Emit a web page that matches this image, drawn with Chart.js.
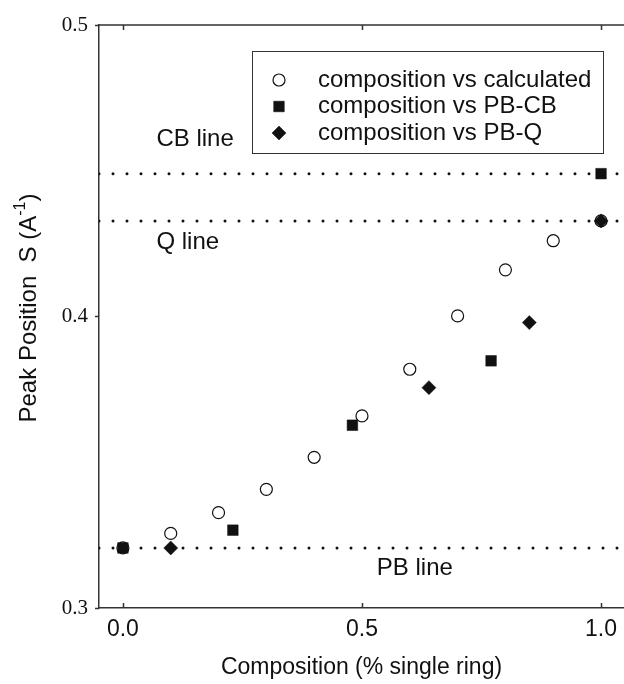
<!DOCTYPE html>
<html>
<head>
<meta charset="utf-8">
<script src="https://cdn.jsdelivr.net/npm/chart.js@4.4.1/dist/chart.umd.min.js"></script>
<style>
  html, body { margin: 0; padding: 0; background: #fff; overflow: hidden; }
  #wrap { width: 624px; height: 684px; }
</style>
</head>
<body>
<div id="wrap"><canvas id="chart"></canvas></div>
<script>
// composition (fraction single ring) vs peak position
const calcX = [0, 0.1, 0.2, 0.3, 0.4, 0.5, 0.6, 0.7, 0.8, 0.9, 1.0];
const calcY = [0.3206, 0.3256, 0.3327, 0.3407, 0.3517, 0.3659, 0.3819, 0.4002, 0.4160, 0.4260, 0.4328];
const pbcbX = [0, 0.23, 0.48, 0.77, 1.0];
const pbcbY = [0.3206, 0.3267, 0.3627, 0.3848, 0.449];
const pbqX = [0.1, 0.64, 0.85, 1.0];
const pbqY = [0.3206, 0.3756, 0.3979, 0.4328];

// reference lines
const refNames = ['CB line', 'Q line', 'PB line'];
const refValues = [0.449, 0.4328, 0.3206];

const xTicks = [0, 0.5, 1.0];
const yTicks = [0.3, 0.4, 0.5];

const xRange = [-0.05, 1.048];
const yRange = [0.3, 0.5];

// where the line names sit (data units)
const refLabelAt = [[0.07, 0.4609], [0.07, 0.4256], [0.531, 0.3137]];

const ink = '#111';
const sans = "'Liberation Sans', Arial, sans-serif";
const serif = "'Liberation Serif', 'Times New Roman', serif";

const pts = (xs, ys) => xs.map((x, i) => ({ x: x, y: ys[i] }));

const markerSets = [
    { label: 'composition vs calculated', data: pts(calcX, calcY), pointStyle: 'circle', pointRadius: 6,
      pointBackgroundColor: '#fff', pointBorderColor: ink, pointBorderWidth: 1.2, order: 3 },
    { label: 'composition vs PB-CB', data: pts(pbcbX, pbcbY), pointStyle: 'rect', pointRadius: 7.5,
      pointBackgroundColor: ink, pointBorderColor: ink, pointBorderWidth: 0.5, order: 1 },
    { label: 'composition vs PB-Q', data: pts(pbqX, pbqY), pointStyle: 'rectRot', pointRadius: 7,
      pointBackgroundColor: ink, pointBorderColor: ink, pointBorderWidth: 0.5, order: 2 }
];

const refSets = refValues.map((v, i) => ({
    label: refNames[i],
    data: [{ x: xRange[0], y: v }, { x: xRange[1], y: v }],
    showLine: true,
    pointRadius: 0,
    borderColor: ink,
    borderWidth: 3,
    borderDash: [0, 14],
    borderCapStyle: 'round',
    order: 4
}));

// extra drawing: frame top, inward ticks, line names, boxed legend, y title
const decor = {
    id: 'decor',
    afterDraw(chart) {
        const ctx = chart.ctx;
        const a = chart.chartArea;
        const xs = chart.scales.x, ys = chart.scales.y;
        ctx.save();
        ctx.strokeStyle = '#333';
        ctx.lineWidth = 1.5;
        ctx.beginPath();
        ctx.moveTo(a.left, a.top);
        ctx.lineTo(a.right, a.top);
        xTicks.forEach(v => {
            const px = Math.round(xs.getPixelForValue(v)) + 0.5;
            ctx.moveTo(px, a.top); ctx.lineTo(px, a.top + 5);
            ctx.moveTo(px, a.bottom); ctx.lineTo(px, a.bottom - 5);
        });
        yTicks.forEach(v => {
            const py = Math.round(ys.getPixelForValue(v)) + 0.5;
            ctx.moveTo(a.left - 4, py); ctx.lineTo(a.left, py);
        });
        ctx.stroke();

        // line names
        ctx.fillStyle = ink;
        ctx.font = '24px ' + sans;
        ctx.textAlign = 'left';
        ctx.textBaseline = 'middle';
        refNames.forEach((name, i) => {
            ctx.fillText(name, xs.getPixelForValue(refLabelAt[i][0]), ys.getPixelForValue(refLabelAt[i][1]));
        });

        // legend box
        ctx.lineWidth = 1;
        ctx.strokeStyle = '#333';
        ctx.strokeRect(252.5, 51.5, 351, 102);
        markerSets.forEach((ds, i) => {
            const y = 80 + i * 26.5;
            ctx.fillStyle = ds.pointBackgroundColor;
            ctx.strokeStyle = ds.pointBorderColor;
            ctx.lineWidth = ds.pointBorderWidth;
            Chart.helpers.drawPoint(ctx, { pointStyle: ds.pointStyle, radius: ds.pointRadius, borderWidth: ds.pointBorderWidth, rotation: 0 }, 279, y);
            ctx.fillStyle = ink;
            ctx.fillText(ds.label, 318, y);
        });

        // y axis title with superscript
        ctx.translate(29, 308);
        ctx.rotate(-Math.PI / 2);
        const main = 'Peak Position  S (A', sup = '-1', tail = ')';
        ctx.font = '24px ' + sans;
        const w1 = ctx.measureText(main).width, w3 = ctx.measureText(tail).width;
        ctx.font = '16px ' + sans;
        const w2 = ctx.measureText(sup).width;
        const x0 = -(w1 + w2 + w3) / 2;
        ctx.font = '24px ' + sans;
        ctx.fillText(main, x0, 0);
        ctx.font = '16px ' + sans;
        ctx.fillText(sup, x0 + w1, -8);
        ctx.font = '24px ' + sans;
        ctx.fillText(tail, x0 + w1 + w2, 0);
        ctx.restore();
    }
};

new Chart(document.getElementById('chart'), {
    type: 'scatter',
    data: { datasets: markerSets.concat(refSets) },
    options: {
        responsive: true,
        maintainAspectRatio: false,
        animation: false,
        events: [],
        layout: { autoPadding: false, padding: { top: 25, right: 0, bottom: 0, left: 0 } },
        plugins: {
            legend: { display: false },
            tooltip: { enabled: false }
        },
        scales: {
            x: {
                type: 'linear',
                min: xRange[0],
                max: xRange[1],
                afterBuildTicks: s => { s.ticks = xTicks.map(v => ({ value: v })); },
                afterFit: s => { s.height = 76; s.paddingRight = 0; s.paddingLeft = 0; },
                grid: { display: false, drawTicks: false },
                border: { display: true, color: '#333', width: 1.5 },
                ticks: {
                    color: ink,
                    padding: 8,
                    maxRotation: 0,
                    autoSkip: false,
                    font: { family: sans, size: 23 },
                    callback: v => Number(v).toFixed(1)
                },
                title: {
                    display: true,
                    text: 'Composition (% single ring)',
                    color: ink,
                    font: { family: sans, size: 23 },
                    padding: { top: 0, bottom: 3 }
                }
            },
            y: {
                min: yRange[0],
                max: yRange[1],
                afterBuildTicks: s => { s.ticks = yTicks.map(v => ({ value: v })); },
                afterFit: s => { s.width = 99; },
                grid: { display: false, drawTicks: false },
                border: { display: true, color: '#333', width: 1.5 },
                ticks: {
                    color: ink,
                    padding: 11,
                    font: { family: serif, size: 21 },
                    callback: v => Number(v).toFixed(1)
                }
            }
        }
    },
    plugins: [decor]
});
</script>
</body>
</html>
